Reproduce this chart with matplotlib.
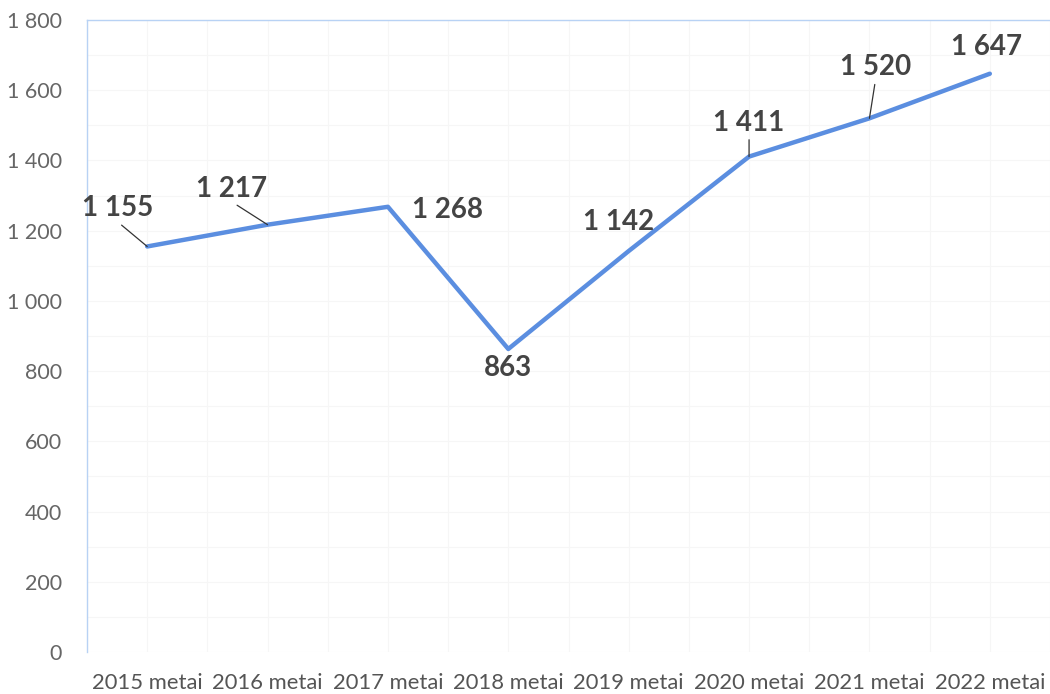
import matplotlib
matplotlib.use("Agg")
import matplotlib.pyplot as plt
from matplotlib.ticker import FuncFormatter, MultipleLocator

categories = ["2015 metai", "2016 metai", "2017 metai", "2018 metai",
              "2019 metai", "2020 metai", "2021 metai", "2022 metai"]
values = [1155, 1217, 1268, 863, 1142, 1411, 1520, 1647]

# label layout: offsets in pixels from the point, and whether a leader line is drawn
label_offsets = [(-30, 38), (-36, 36), (60, -3), (0, -19), (-10, 29), (0, 34), (6, 51), (-3, 27)]
leaders = [True, True, False, False, False, True, True, False]

fig = plt.figure(figsize=(10.5, 6.94), dpi=100)
ax = fig.add_axes([87 / 1050, 1 - 652 / 694, 1 - 87 / 1050, (652 - 20) / 694])

x = list(range(len(categories)))
ax.plot(x, values, color="#5b8ee0", linewidth=3.2, solid_capstyle="round", zorder=3)

ax.set_xlim(-0.5, len(categories) - 0.5)
ax.set_ylim(0, 1800)
ax.yaxis.set_major_locator(MultipleLocator(200))
ax.yaxis.set_minor_locator(MultipleLocator(100))
ax.xaxis.set_minor_locator(MultipleLocator(0.5))

def fmt(v, pos):
    v = int(round(v))
    return f"{v:,}".replace(",", " ")
ax.yaxis.set_major_formatter(FuncFormatter(fmt))

ax.set_xticks(x)
ax.set_xticklabels(categories)
ax.grid(True, which="both", color="#f6f6f6", linewidth=0.8, zorder=0)

for side in ["right", "bottom"]:
    ax.spines[side].set_visible(False)
for side in ["left", "top"]:
    ax.spines[side].set_color("#b8d2f4")
    ax.spines[side].set_linewidth(1.0)

ax.tick_params(axis="both", which="both", length=0)
ax.tick_params(axis="y", labelsize=15.5, labelcolor="#666666", pad=18)
ax.tick_params(axis="x", labelsize=15.8, labelcolor="#555555", pad=15)
for lab in ax.get_xticklabels() + ax.get_yticklabels():
    lab.set_fontfamily("Lato")

for xi, v, off, lead in zip(x, values, label_offsets, leaders):
    kw = {}
    if lead:
        kw["arrowprops"] = dict(arrowstyle="-", color="#333333", linewidth=0.9,
                                shrinkA=1, shrinkB=0, relpos=(0.5, 0.0))
    ax.annotate(fmt(v, None), xy=(xi, v), xytext=off, textcoords="offset pixels",
                ha="center", va="center", fontsize=20, fontweight="bold",
                color="#444444", fontfamily="Lato", zorder=4, **kw)

fig.savefig("out.png", dpi=100)
